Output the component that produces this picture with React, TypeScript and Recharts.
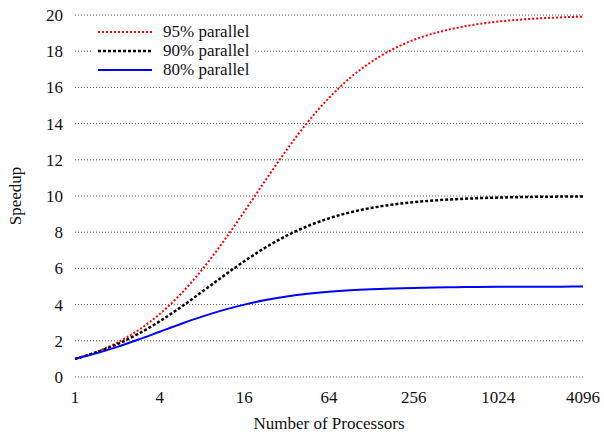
import { LineChart, Line, XAxis, YAxis, CartesianGrid } from 'recharts';

const processors = [
  1, 1.414, 2, 2.828, 4, 5.657, 8, 11.31, 16, 22.63, 32, 45.25, 64, 90.51, 128, 181, 256, 362, 512, 724, 1024,
  1448, 2048, 2896, 4096,
];
const parallel95 = [
  1, 1.385, 1.905, 2.591, 3.478, 4.589, 5.926, 7.464, 9.143, 10.87, 12.55, 14.09, 15.42, 16.53, 17.41, 18.1,
  18.62, 19.0, 19.28, 19.49, 19.64, 19.74, 19.82, 19.87, 19.91,
];
const parallel90 = [
  1, 1.358, 1.818, 2.391, 3.077, 3.859, 4.706, 5.569, 6.4, 7.154, 7.805, 8.341, 8.767, 9.096, 9.343, 9.526,
  9.66, 9.757, 9.827, 9.877, 9.913, 9.938, 9.956, 9.969, 9.978,
];
const parallel80 = [
  1, 1.306, 1.667, 2.071, 2.5, 2.929, 3.333, 3.694, 4.0, 4.249, 4.444, 4.594, 4.706, 4.789, 4.848, 4.892,
  4.923, 4.945, 4.961, 4.973, 4.981, 4.986, 4.99, 4.993, 4.995,
];
const xTicks = [1, 4, 16, 64, 256, 1024, 4096];
const yTicks = [0, 2, 4, 6, 8, 10, 12, 14, 16, 18, 20];

const data = processors.map((n, i) => ({
  n,
  p95: parallel95[i],
  p90: parallel90[i],
  p80: parallel80[i],
}));

const FONT = '"Liberation Serif", "Times New Roman", Times, serif';
const FS = 17;

const series = [
  { key: 'p95', name: '95% parallel', color: '#ff0000', dash: '2 2', width: 2 },
  { key: 'p90', name: '90% parallel', color: '#000000', dash: '3 2', width: 2.5 },
  { key: 'p80', name: '80% parallel', color: '#0000ff', dash: undefined, width: 2 },
];

// legend sits over the plot, hiding the grid behind it
const LegendBox = () => (
  <div style={{ position: 'absolute', left: 92, top: 22, background: '#fff', padding: '0 6px 0 4px' }}>
    {series.map((s) => (
      <div key={s.key} style={{ display: 'flex', alignItems: 'center', height: 19 }}>
        <svg width={56} height={8}>
          <line x1={2} y1={4} x2={56} y2={4} stroke={s.color} strokeWidth={s.width} strokeDasharray={s.dash} />
        </svg>
        <span style={{ marginLeft: 11, fontFamily: FONT, fontSize: FS, color: '#111', lineHeight: '19px' }}>
          {s.name}
        </span>
      </div>
    ))}
  </div>
);

const App = () => {
  return (
    <div style={{ position: 'absolute', left: 0, top: 0, width: 604, height: 433, background: '#fff' }}>
      <LineChart width={604} height={433} data={data} margin={{ top: 15, right: 21, left: 15, bottom: 26 }}>
        <CartesianGrid vertical={false} stroke="#555" strokeDasharray="1 2" />
        <XAxis
          dataKey="n"
          type="number"
          scale="log"
          domain={[1, 4096]}
          ticks={xTicks}
          axisLine={false}
          tickLine={false}
          tickMargin={8}
          height={30}
          tick={{ fontFamily: FONT, fontSize: FS, fill: '#111' }}
          label={{
            value: 'Number of Processors',
            position: 'insideBottom',
            offset: -22,
            style: { fontFamily: FONT, fontSize: FS, fill: '#111' },
          }}
        />
        <YAxis
          domain={[0, 20]}
          ticks={yTicks}
          axisLine={false}
          tickLine={false}
          tickMargin={6}
          width={60}
          tick={{ fontFamily: FONT, fontSize: FS, fill: '#111' }}
          label={{
            value: 'Speedup',
            angle: -90,
            position: 'insideLeft',
            offset: 0,
            style: { fontFamily: FONT, fontSize: FS, fill: '#111', textAnchor: 'middle' },
          }}
        />
        {series.map((s) => (
          <Line
            key={s.key}
            type="monotone"
            dataKey={s.key}
            name={s.name}
            stroke={s.color}
            strokeWidth={s.width}
            strokeDasharray={s.dash}
            dot={false}
            isAnimationActive={false}
          />
        ))}
      </LineChart>
      <LegendBox />
    </div>
  );
};

export default App;
